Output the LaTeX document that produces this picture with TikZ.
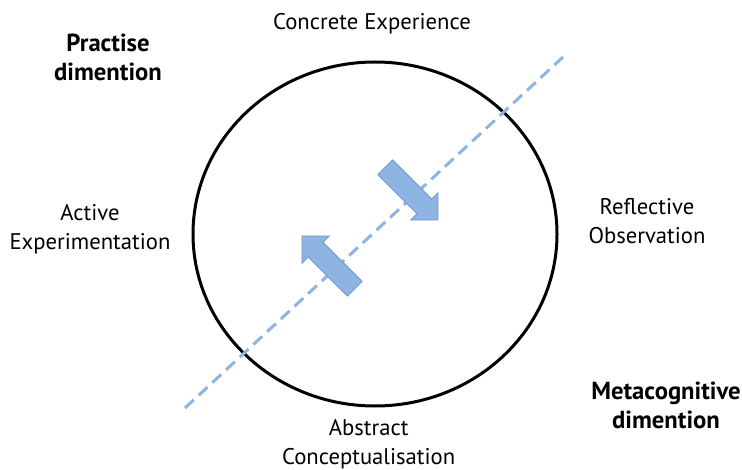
\documentclass[tikz,border=0pt]{standalone}
\usepackage{fontspec}
\setmainfont{PT Sans}
\usetikzlibrary{shapes.arrows, shapes.geometric}

\definecolor{lightblue}{RGB}{141,180,226}
\definecolor{edgeblue}{RGB}{112,156,210}

\begin{document}
\begin{tikzpicture}
[every node/.style={inner sep=0pt, align=center, font=\fontsize{17pt}{21.75pt}\selectfont},
 boldtext/.style={font=\fontsize{18.5pt}{21.75pt}\selectfont\bfseries},
 bigarrow/.style={single arrow, inner xsep=0pt, inner ysep=7.5pt, minimum height=56pt, minimum width=28.5pt, single arrow head extend=6.75pt, single arrow tip angle=90, fill=lightblue, draw=edgeblue, line width=0.6pt}]
\useasboundingbox (0pt, 0pt) rectangle (556.5pt, -352.5pt);
\node (cycle) [ellipse, minimum width=273pt, minimum height=258pt, line width=2.25pt, draw=black] at (281.25pt, -175.5pt) {};
\coordinate (low) at (138.75pt, -306.0pt);
\coordinate (high) at (422.25pt, -42.75pt);
\draw [line width=2.25pt, color=lightblue, dash pattern=on 9pt off 5pt] (low) -- (high);
\node (down) [bigarrow, rotate=-45] at (306.0pt, -142.5pt) {};
\node (up) [bigarrow, rotate=135] at (249.0pt, -199.5pt) {};
\node (ce) at (279.0pt, -17.5pt) {Concrete Experience};
\node (ro) at (485.25pt, -166.0pt) {Reflective\\Observation};
\node (ac) at (276.5pt, -333.5pt) {Abstract\\Conceptualisation};
\node (ae) at (67.5pt, -172.0pt) {Active\\Experimentation};
\node (pd) [boldtext] at (81.0pt, -43.0pt) {Practise\\dimention};
\node (md) [boldtext] at (499.5pt, -304.0pt) {Metacognitive\\dimention};
\end{tikzpicture}
\end{document}
